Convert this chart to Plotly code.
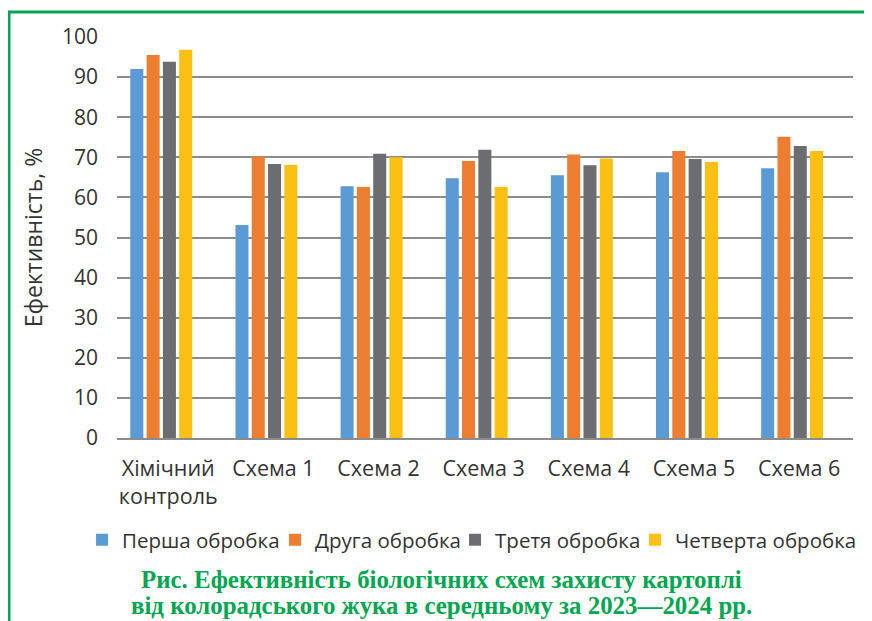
import plotly.graph_objects as go

categories = ["Хімічний<br>контроль", "Схема 1", "Схема 2", "Схема 3", "Схема 4", "Схема 5", "Схема 6"]
series_names = ["Перша обробка", "Друга обробка", "Третя обробка", "Четверта обробка"]
first = [92.0, 53.1, 62.8, 64.8, 65.5, 66.3, 67.3]
second = [95.5, 70.2, 62.6, 69.1, 70.7, 71.6, 75.1]
third = [93.8, 68.3, 70.9, 71.9, 68.0, 69.6, 72.8]
fourth = [96.8, 68.1, 70.0, 62.6, 69.7, 68.8, 71.6]
colors = ["#5b9bd5", "#ed7d31", "#6c6d70", "#fcc012"]
y_ticks = [0, 10, 20, 30, 40, 50, 60, 70, 80, 90, 100]
y_title = "Ефективність, %"
caption1 = "Рис. Ефективність біологічних схем захисту картоплі"
caption2 = "від колорадського жука в середньому за 2023—2024 рр."

FONT = "Open Sans"
TXT = "#333333"
GREEN = "#00a651"

legend_ids = ["legend", "legend2", "legend3", "legend4"]
legend_x = [-0.0475, 0.2147, 0.4593, 0.7038]

fig = go.Figure()
for name, vals, col, lid in zip(series_names, [first, second, third, fourth], colors, legend_ids):
    fig.add_trace(go.Bar(x=categories, y=vals, name=name, legend=lid,
                         marker=dict(color=col, line=dict(width=0))))

legend_style = dict(orientation="h", xanchor="left", y=-0.254, yanchor="middle",
                    font=dict(size=20.5, family=FONT, color=TXT), itemwidth=30,
                    bgcolor="rgba(0,0,0,0)", borderwidth=0)
legends = {}
for lid, lx in zip(legend_ids, legend_x):
    legends[lid] = dict(legend_style, x=lx)

fig.update_layout(
    width=864, height=613,
    margin=dict(l=109, r=19, t=29, b=183, pad=0, autoexpand=False),
    paper_bgcolor="white", plot_bgcolor="white",
    barmode="group", bargap=0.38, bargroupgap=0.2,
    font=dict(family=FONT, color=TXT, size=20),
    showlegend=True,
    **legends,
)
fig.update_xaxes(
    type="category", range=[-0.421, 6.579], showgrid=False,
    showline=True, linecolor="#8c8c8c", linewidth=2,
    ticks="", ticklabelshift=7, ticklabelstandoff=10,
    tickfont=dict(size=21.5, family=FONT, color=TXT),
)
fig.update_yaxes(
    range=[0, 100], tickvals=y_ticks, showgrid=True, gridcolor="#8c8c8c", gridwidth=2,
    zeroline=False, showline=False, ticks="", ticklabelstandoff=18,
    tickfont=dict(size=21, family=FONT, color=TXT),
    title=dict(text=y_title, font=dict(size=23, family=FONT, color=TXT), standoff=12),
)

fig.add_annotation(text="<b>" + caption1 + "</b>", xref="paper", yref="paper", x=0.441, y=-0.354,
                   xanchor="center", yanchor="middle", showarrow=False,
                   font=dict(family="Liberation Serif", size=24.9, color=GREEN))
fig.add_annotation(text="<b>" + caption2 + "</b>", xref="paper", yref="paper", x=0.441, y=-0.4165,
                   xanchor="center", yanchor="middle", showarrow=False,
                   font=dict(family="Liberation Serif", size=24.9, color=GREEN))

# green frame around the figure
fig.add_shape(type="rect", xref="paper", yref="paper", xsizemode="pixel", ysizemode="pixel",
              xanchor=0, yanchor=1, x0=-108, x1=800, y0=25, y1=-700,
              line=dict(color=GREEN, width=3), fillcolor="rgba(0,0,0,0)", layer="above")

fig.write_html("out.html")
